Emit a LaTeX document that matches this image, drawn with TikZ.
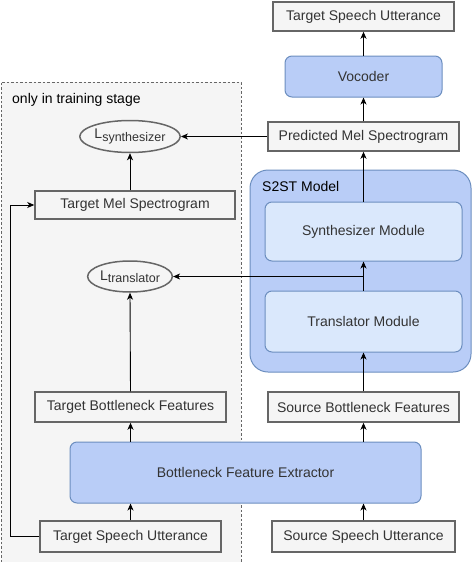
\documentclass[tikz,border=0pt]{standalone}
\usepackage{fontspec}
\setmainfont{Liberation Sans}
\usetikzlibrary{arrows.meta,shapes.geometric}
\definecolor{boxfill}{HTML}{F5F5F5}
\definecolor{boxdraw}{HTML}{666666}
\definecolor{txt}{HTML}{333333}
\definecolor{bluefill}{HTML}{B9CDF7}
\definecolor{lightblue}{HTML}{DAE8FC}
\definecolor{bluedraw}{HTML}{6C8EBF}
\tikzset{
  grbox/.style={draw=boxdraw, fill=boxfill, line width=1.5pt, text=txt, inner sep=0pt, font=\fontsize{14}{16}\selectfont},
  bluebox/.style={draw=bluedraw, fill=bluefill, line width=1pt, rounded corners=7pt, text=txt, inner sep=0pt, font=\fontsize{14}{16}\selectfont},
  lbbox/.style={draw=bluedraw, fill=lightblue, line width=1pt, rounded corners=7pt, text=txt, inner sep=0pt, font=\fontsize{14}{16}\selectfont},
  loss/.style={ellipse, draw=boxdraw, fill=boxfill, line width=1.5pt, text=txt, inner sep=0pt},
  arr/.style={-{Stealth[length=7pt,width=6pt,inset=2pt]}, line width=0.9pt, black},
  lab/.style={text=black, inner sep=0pt, font=\fontsize{14}{16}\selectfont}
}
\newcommand{\lossname}[1]{{\fontsize{14}{14}\selectfont L}\raisebox{-2.5pt}{\fontsize{12.5}{13}\selectfont #1}}
\begin{document}
\begin{tikzpicture}[x=1pt,y=-1pt]
\useasboundingbox (0,0) rectangle (472,562);
% training region
\fill[boxfill] (1,82) rectangle (241,562);
\draw[draw=boxdraw, line width=0.7pt, dash pattern=on 2.5pt off 2pt] (1,562) -- (1,82) -- (241,82) -- (241,562);
\node[lab, anchor=west] (train) at (12,100) {only in training stage};
% S2ST container
\draw[draw=bluedraw, fill=bluefill, line width=1pt, rounded corners=18pt] (250,170) rectangle (471,372);
\node[lab, anchor=west] (s2st) at (262,186) {S2ST Model};
% nodes
\node[grbox, minimum width=181pt, minimum height=29pt] (tsuTop) at (363.5,16.5) {Target Speech Utterance};
\node[bluebox, minimum width=157pt, minimum height=41pt] (voc) at (363.5,76.5) {Vocoder};
\node[grbox, minimum width=191pt, minimum height=29pt] (pms) at (363.5,136.5) {Predicted Mel Spectrogram};
\node[loss, minimum width=80pt, minimum height=32pt] (lsyn) at (130,136.5) {\lossname{synthesizer}};
\node[grbox, minimum width=200pt, minimum height=28pt] (tms) at (135,205) {Target Mel Spectrogram};
\node[lbbox, minimum width=197pt, minimum height=59pt] (syn) at (363.5,231.5) {Synthesizer Module};
\node[loss, minimum width=81pt, minimum height=31pt] (ltr) at (130,276.5) {\lossname{translator}};
\node[lbbox, minimum width=197pt, minimum height=61pt] (tra) at (363.5,321.5) {Translator Module};
\node[grbox, minimum width=191pt, minimum height=30pt] (tbf) at (130.5,407) {Target Bottleneck Features};
\node[grbox, minimum width=191pt, minimum height=30pt] (sbf) at (363.5,407) {Source Bottleneck Features};
\node[bluebox, minimum width=351pt, minimum height=61pt] (bfe) at (245.5,472.5) {Bottleneck Feature Extractor};
\node[grbox, minimum width=181pt, minimum height=31pt] (tsu) at (130.5,536.5) {Target Speech Utterance};
\node[grbox, minimum width=183pt, minimum height=31pt] (ssu) at (363.5,536.5) {Source Speech Utterance};
% connectors
\draw[arr] (voc.north) -- (tsuTop.south);
\draw[arr] (pms.north) -- (voc.south);
\draw[arr] (syn.north) -- (pms.south);
\draw[arr] (pms.west) -- (lsyn.east);
\draw[arr] (lsyn.south |- tms.north) -- (lsyn.south);
\draw[arr] (tra.north) -- (syn.south);
\draw[arr] (tra.north |- ltr.east) -- (ltr.east);
\draw[arr] (sbf.north) -- (tra.south);
\draw[arr] (tbf.north) -- (ltr.south);
\draw[arr] (tsu.north) -- (tsu.north |- bfe.south);
\draw[arr] (ssu.north) -- (ssu.north |- bfe.south);
\draw[arr] (tbf.south |- bfe.north) -- (tbf.south);
\draw[arr] (sbf.south |- bfe.north) -- (sbf.south);
\draw[arr] (tsu.west) -- ++(-29,0) |- (tms.west);
\end{tikzpicture}
\end{document}
